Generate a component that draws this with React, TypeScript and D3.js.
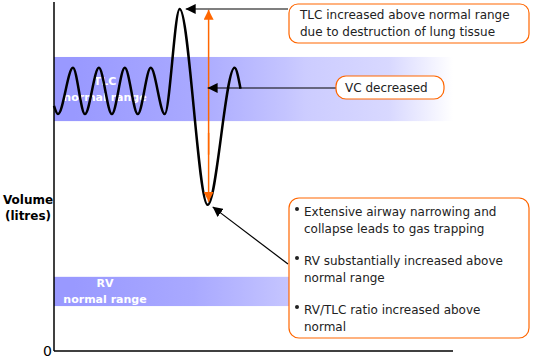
import React, { useMemo } from 'react';
import * as d3 from 'd3';

// breathing trace, time (s) vs volume (litres), read at the turning points
const breathTimes = [0, 0.4, 1.9, 3.1, 4.5, 5.8, 7.1, 8.4, 9.7, 11.1, 12.6, 15.4, 18.1, 18.7];
const breathVolumes = [5.62, 5.43, 6.49, 5.43, 6.49, 5.43, 6.49, 5.43, 6.49, 5.43, 7.84, 3.35, 6.49, 6.01];

const tlcRange = [5.27, 6.74];
const rvRange = [1.03, 1.7];
const bandLabels = [['TLC', 'normal range'], ['RV', 'normal range']];

const tlcNote = ['TLC increased above normal range', 'due to destruction of lung tissue'];
const vcNote = ['VC decreased'];
const bulletNotes = [
  ['Extensive airway narrowing and', 'collapse leads to gas trapping'],
  ['RV substantially increased above', 'normal range'],
  ['RV/TLC ratio increased above', 'normal'],
];

const W = 533;
const H = 361;
const FONT = '"DejaVu Sans", Verdana, sans-serif';
const ORANGE = '#ff6600';

export default function App() {
  const x = useMemo(() => d3.scaleLinear().domain([0, 40]).range([54, 453]), []);
  const y = useMemo(() => d3.scaleLinear().domain([0, 8]).range([351, 2]), []);

  const points = breathTimes.map((t, i) => [t, breathVolumes[i]] as [number, number]);
  const line = d3.line<[number, number]>()
    .x(d => x(d[0]))
    .y(d => y(d[1]))
    .curve(d3.curveMonotoneX);

  const peakIdx = breathVolumes.indexOf(d3.max(breathVolumes)!);
  const troughIdx = breathVolumes.indexOf(d3.min(breathVolumes)!);
  const vcX = x((breathTimes[peakIdx] + breathTimes[troughIdx]) / 2 + 1.4);

  const bands = [tlcRange, rvRange];

  return (
    <svg width={W} height={H} style={{ position: 'absolute', left: 0, top: 0 }}>
      <defs>
        <linearGradient id="band" x1="0" x2="1" y1="0" y2="0">
          <stop offset="0%" stopColor="#9999ff" />
          <stop offset="5%" stopColor="#9999ff" />
          <stop offset="35%" stopColor="#a9a9ff" />
          <stop offset="58%" stopColor="#c4c4ff" />
          <stop offset="63%" stopColor="#ccccff" />
          <stop offset="84%" stopColor="#d8d8ff" />
          <stop offset="100%" stopColor="#ffffff" />
        </linearGradient>
        <marker id="blackHead" viewBox="0 0 10 10" refX="10" refY="5" markerWidth="10" markerHeight="10"
          markerUnits="userSpaceOnUse" orient="auto">
          <path d="M0,0 L10,5 L0,10 Z" fill="#000" />
        </marker>
        <marker id="orangeHead" viewBox="0 0 10 10" refX="10" refY="5" markerWidth="10" markerHeight="10"
          markerUnits="userSpaceOnUse" orient="auto">
          <path d="M0,0 L10,5 L0,10 Z" fill={ORANGE} />
        </marker>
      </defs>

      {/* normal range bands */}
      {bands.map((b, i) => (
        <g key={i}>
          <rect x={x(0)} width={x(40) - x(0)} y={y(b[1])} height={y(b[0]) - y(b[1])} fill="url(#band)" />
          {bandLabels[i].map((s, j) => (
            <text key={j} x={105} y={(y(b[1]) + y(b[0])) / 2 + (j === 0 ? -8 : 8)} dy="0.35em"
              textAnchor="middle" fill="#fff" fontFamily={FONT} fontSize={11} fontWeight="bold">{s}</text>
          ))}
        </g>
      ))}

      {/* axes */}
      <line x1={x(0)} x2={x(0)} y1={2} y2={y(0)} stroke="#000" strokeWidth={1.5} />
      <line x1={x(0)} x2={x(40)} y1={y(0)} y2={y(0)} stroke="#000" strokeWidth={1.5} />
      <text x={52} y={y(0)} dy="0.35em" textAnchor="end" fontFamily={FONT} fontSize={14}>0</text>
      <text x={28} y={200} dy="0.35em" textAnchor="middle" fontFamily={FONT} fontSize={12} fontWeight="bold">Volume</text>
      <text x={28} y={216} dy="0.35em" textAnchor="middle" fontFamily={FONT} fontSize={12} fontWeight="bold">(litres)</text>

      {/* trace */}
      <path d={line(points) || undefined} fill="none" stroke="#000" strokeWidth={2.5} />

      {/* orange double arrow */}
      <line x1={x(15.5)} x2={x(15.5)} y1={y(4.5)} y2={y(7.82)} stroke={ORANGE} strokeWidth={1.5} markerEnd="url(#orangeHead)" />
      <line x1={x(15.5)} x2={x(15.5)} y1={y(5)} y2={y(3.42)} stroke={ORANGE} strokeWidth={1.5} markerEnd="url(#orangeHead)" />

      {/* black pointers */}
      <line x1={288} x2={x(breathTimes[peakIdx]) + 6} y1={y(breathVolumes[peakIdx])} y2={y(breathVolumes[peakIdx])}
        stroke="#000" strokeWidth={1.2} markerEnd="url(#blackHead)" />
      <line x1={336} x2={vcX} y1={88} y2={88} stroke="#000" strokeWidth={1.2} markerEnd="url(#blackHead)" />
      <line x1={288} x2={x(breathTimes[troughIdx]) + 5} y1={264} y2={y(breathVolumes[troughIdx]) + 2}
        stroke="#000" strokeWidth={1.2} markerEnd="url(#blackHead)" />

      {/* annotation boxes */}
      <rect x={289} y={4} width={240} height={39} rx={9} fill="#fff" stroke={ORANGE} strokeWidth={1.2} />
      {tlcNote.map((s, i) => (
        <text key={i} x={300} y={15 + i * 17} dy="0.35em" fontFamily={FONT} fontSize={12} fill="#222">{s}</text>
      ))}

      <rect x={336} y={76} width={108} height={23} rx={10} fill="#fff" stroke={ORANGE} strokeWidth={1.2} />
      {vcNote.map((s, i) => (
        <text key={i} x={345} y={88} dy="0.35em" fontFamily={FONT} fontSize={12} fill="#222">{s}</text>
      ))}

      <rect x={289} y={198} width={240} height={140} rx={10} fill="#fff" stroke={ORANGE} strokeWidth={1.2} />
      {bulletNotes.map((para, i) => (
        <g key={i}>
          <circle cx={297} cy={209 + i * 49} r={2} fill="#222" />
          {para.map((s, j) => (
            <text key={j} x={304} y={212 + i * 49 + j * 16.5} dy="0.35em" fontFamily={FONT} fontSize={12} fill="#222">{s}</text>
          ))}
        </g>
      ))}
    </svg>
  );
}
